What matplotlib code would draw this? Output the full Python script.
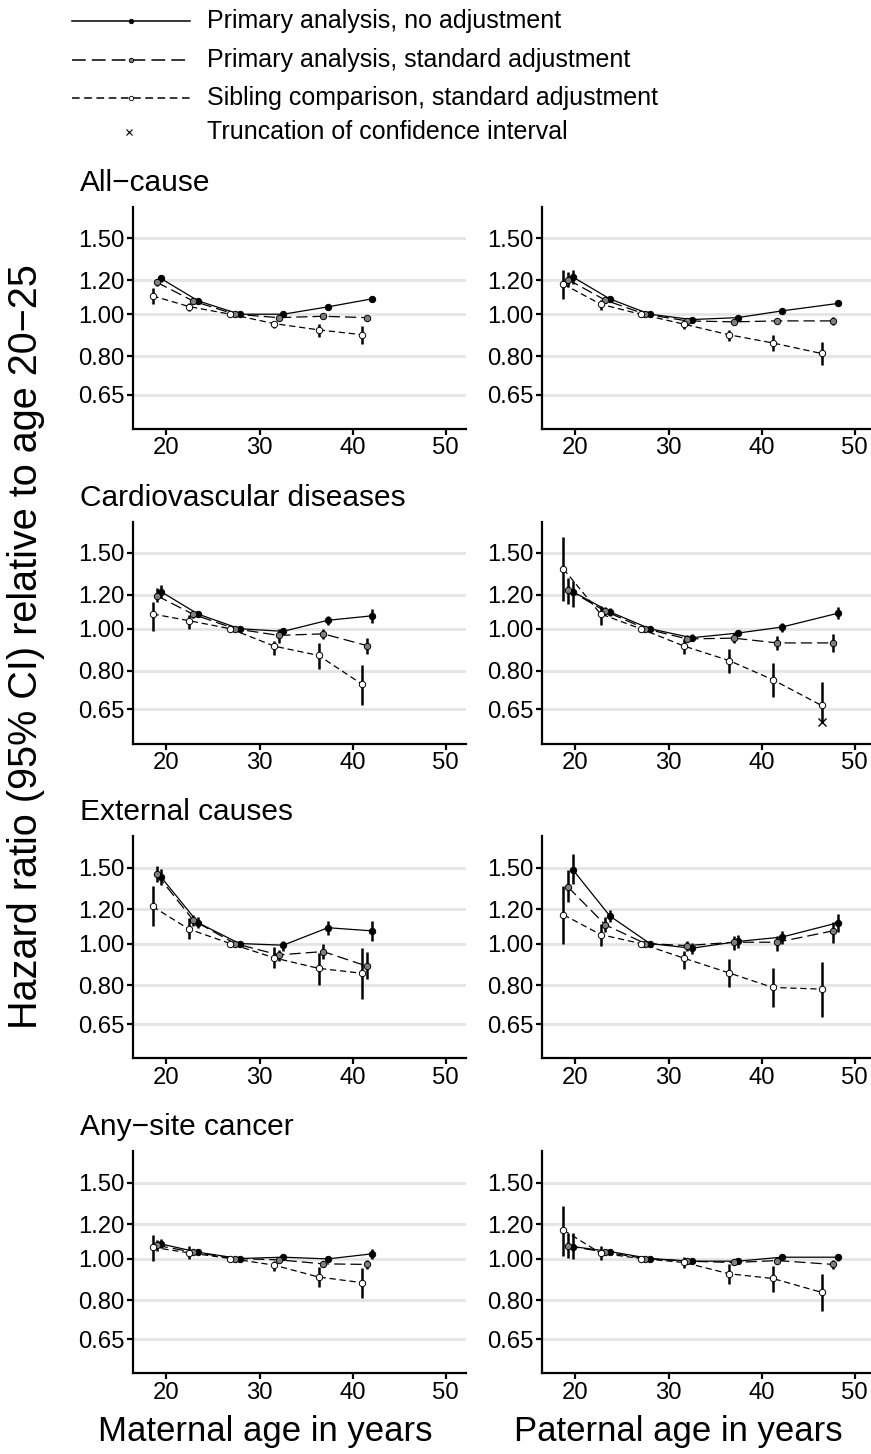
import numpy as np
import matplotlib
matplotlib.use("Agg")
import matplotlib.pyplot as plt
from matplotlib.lines import Line2D

plt.rcParams['font.family'] = ['Liberation Sans', 'DejaVu Sans']

W, H = 871, 1454

# ---------------- data ----------------
causes = ["All\u2212cause", "Cardiovascular diseases", "External causes", "Any\u2212site cancer"]
series_names = ["Primary analysis, no adjustment",
                "Primary analysis, standard adjustment",
                "Sibling comparison, standard adjustment"]

# x positions (mean age in category) per series
mat_x_unadj = [19.4, 23.4, 27.85, 32.55, 37.35, 42.05]
mat_x_adj   = [18.95, 22.9, 27.35, 32.05, 36.85, 41.55]
mat_x_sib   = [18.5, 22.4, 26.85, 31.6, 36.35, 41.05]
pat_x_unadj = [19.7, 23.7, 28.0, 32.5, 37.45, 42.2, 48.2]
pat_x_adj   = [19.2, 23.2, 27.5, 32.0, 37.0, 41.7, 47.7]
pat_x_sib   = [18.7, 22.7, 27.0, 31.7, 36.5, 41.2, 46.45]

# ---- All-cause, maternal
allc_mat_unadj    = [1.21, 1.074, 1.0, 1.0, 1.04, 1.085]
allc_mat_unadj_lo = [1.19, 1.062, 1.0, 0.99, 1.028, 1.07]
allc_mat_unadj_hi = [1.23, 1.086, 1.0, 1.01, 1.052, 1.10]
allc_mat_adj      = [1.186, 1.072, 1.0, 0.982, 0.989, 0.982]
allc_mat_adj_lo   = [1.165, 1.06, 1.0, 0.972, 0.976, 0.965]
allc_mat_adj_hi   = [1.207, 1.084, 1.0, 0.992, 1.002, 0.998]
allc_mat_sib      = [1.103, 1.042, 1.0, 0.951, 0.92, 0.896]
allc_mat_sib_lo   = [1.055, 1.018, 1.0, 0.931, 0.886, 0.852]
allc_mat_sib_hi   = [1.153, 1.059, 1.0, 0.965, 0.948, 0.94]

# ---- All-cause, paternal
allc_pat_unadj    = [1.22, 1.085, 1.0, 0.972, 0.982, 1.018, 1.059]
allc_pat_unadj_lo = [1.174, 1.072, 1.0, 0.962, 0.972, 1.006, 1.045]
allc_pat_unadj_hi = [1.269, 1.098, 1.0, 0.982, 0.992, 1.03, 1.073]
allc_pat_adj      = [1.203, 1.078, 1.0, 0.965, 0.960, 0.965, 0.965]
allc_pat_adj_lo   = [1.157, 1.064, 1.0, 0.954, 0.948, 0.952, 0.945]
allc_pat_adj_hi   = [1.254, 1.092, 1.0, 0.976, 0.972, 0.978, 0.986]
allc_pat_sib      = [1.174, 1.055, 1.0, 0.948, 0.896, 0.858, 0.811]
allc_pat_sib_lo   = [1.085, 1.025, 1.0, 0.926, 0.867, 0.822, 0.763]
allc_pat_sib_hi   = [1.265, 1.078, 1.0, 0.965, 0.921, 0.894, 0.86]

# ---- Cardiovascular, maternal
cvd_mat_unadj    = [1.219, 1.081, 1.0, 0.986, 1.046, 1.071]
cvd_mat_unadj_lo = [1.176, 1.063, 1.0, 0.97, 1.022, 1.033]
cvd_mat_unadj_hi = [1.26, 1.10, 1.0, 1.004, 1.071, 1.11]
cvd_mat_adj      = [1.193, 1.079, 1.0, 0.965, 0.973, 0.914]
cvd_mat_adj_lo   = [1.155, 1.06, 1.0, 0.927, 0.947, 0.874]
cvd_mat_adj_hi   = [1.24, 1.098, 1.0, 1.0, 1.0, 0.954]
cvd_mat_sib      = [1.082, 1.044, 1.0, 0.911, 0.867, 0.743]
cvd_mat_sib_lo   = [0.986, 0.996, 1.0, 0.869, 0.808, 0.667]
cvd_mat_sib_hi   = [1.155, 1.075, 1.0, 0.939, 0.927, 0.825]

# ---- Cardiovascular, paternal
cvd_pat_unadj    = [1.219, 1.094, 1.0, 0.953, 0.977, 1.009, 1.086]
cvd_pat_unadj_lo = [1.124, 1.07, 1.0, 0.935, 0.96, 0.985, 1.056]
cvd_pat_unadj_hi = [1.29, 1.118, 1.0, 0.972, 0.995, 1.033, 1.124]
cvd_pat_adj      = [1.232, 1.098, 1.0, 0.947, 0.951, 0.927, 0.927]
cvd_pat_adj_lo   = [1.138, 1.075, 1.0, 0.93, 0.927, 0.894, 0.885]
cvd_pat_adj_hi   = [1.31, 1.12, 1.0, 0.965, 0.979, 0.961, 0.97]
cvd_pat_sib      = [1.376, 1.082, 1.0, 0.911, 0.844, 0.762, 0.664]
cvd_pat_sib_lo   = [1.159, 1.022, 1.0, 0.874, 0.788, 0.695, 0.61]
cvd_pat_sib_hi   = [1.627, 1.13, 1.0, 0.947, 0.898, 0.832, 0.752]
cvd_pat_sib_trunc = [None, None, None, None, None, None, 0.607]

# ---- External causes, maternal
ext_mat_unadj    = [1.427, 1.117, 1.0, 0.991, 1.088, 1.07]
ext_mat_unadj_lo = [1.364, 1.085, 1.0, 0.963, 1.048, 1.015]
ext_mat_unadj_hi = [1.49, 1.149, 1.0, 1.011, 1.127, 1.126]
ext_mat_adj      = [1.447, 1.131, 1.0, 0.941, 0.958, 0.886]
ext_mat_adj_lo   = [1.389, 1.097, 1.0, 0.913, 0.92, 0.828]
ext_mat_adj_hi   = [1.51, 1.166, 1.0, 0.968, 1.0, 0.954]
ext_mat_sib      = [1.219, 1.08, 1.0, 0.926, 0.876, 0.853]
ext_mat_sib_lo   = [1.097, 1.022, 1.0, 0.876, 0.803, 0.743]
ext_mat_sib_hi   = [1.36, 1.145, 1.0, 0.98, 0.951, 0.975]

# ---- External causes, paternal
ext_pat_unadj    = [1.484, 1.158, 1.0, 0.975, 1.011, 1.035, 1.117]
ext_pat_unadj_lo = [1.377, 1.121, 1.0, 0.947, 0.975, 0.998, 1.063]
ext_pat_unadj_hi = [1.611, 1.193, 1.0, 1.005, 1.047, 1.071, 1.172]
ext_pat_adj      = [1.352, 1.105, 1.0, 0.989, 1.007, 1.007, 1.07]
ext_pat_adj_lo   = [1.248, 1.063, 1.0, 0.962, 0.968, 0.96, 1.004]
ext_pat_adj_hi   = [1.479, 1.151, 1.0, 1.016, 1.043, 1.043, 1.121]
ext_pat_sib      = [1.166, 1.049, 1.0, 0.924, 0.855, 0.791, 0.784]
ext_pat_sib_lo   = [0.998, 0.989, 1.0, 0.873, 0.791, 0.711, 0.674]
ext_pat_sib_hi   = [1.36, 1.111, 1.0, 0.963, 0.921, 0.876, 0.908]

# ---- Any-site cancer, maternal
can_mat_unadj    = [1.081, 1.034, 1.0, 1.007, 0.998, 1.025]
can_mat_unadj_lo = [1.056, 1.022, 1.0, 0.997, 0.986, 0.996]
can_mat_unadj_hi = [1.11, 1.046, 1.0, 1.017, 1.01, 1.053]
can_mat_adj      = [1.073, 1.034, 1.0, 0.993, 0.972, 0.969]
can_mat_adj_lo   = [1.04, 1.022, 1.0, 0.983, 0.958, 0.948]
can_mat_adj_hi   = [1.106, 1.046, 1.0, 1.003, 0.986, 0.99]
can_mat_sib      = [1.062, 1.031, 1.0, 0.965, 0.906, 0.879]
can_mat_sib_lo   = [0.989, 0.996, 1.0, 0.935, 0.859, 0.811]
can_mat_sib_hi   = [1.136, 1.07, 1.0, 0.989, 0.955, 0.951]

# ---- Any-site cancer, paternal
can_pat_unadj    = [1.066, 1.038, 1.0, 0.986, 0.986, 1.007, 1.007]
can_pat_unadj_lo = [0.996, 1.024, 1.0, 0.976, 0.974, 0.99, 0.988]
can_pat_unadj_hi = [1.144, 1.052, 1.0, 0.996, 0.998, 1.024, 1.025]
can_pat_adj      = [1.07, 1.034, 1.0, 0.986, 0.979, 0.989, 0.969]
can_pat_adj_lo   = [1.004, 1.02, 1.0, 0.975, 0.966, 0.972, 0.946]
can_pat_adj_hi   = [1.144, 1.048, 1.0, 0.997, 0.992, 1.006, 0.99]
can_pat_sib      = [1.164, 1.029, 1.0, 0.979, 0.922, 0.899, 0.835]
can_pat_sib_lo   = [1.016, 0.99, 1.0, 0.951, 0.874, 0.836, 0.756]
can_pat_sib_hi   = [1.325, 1.07, 1.0, 1.008, 0.972, 0.963, 0.919]

y_ticks = [0.65, 0.80, 1.00, 1.20, 1.50]
y_ticklabels = ["0.65", "0.80", "1.00", "1.20", "1.50"]
x_ticks = [20, 30, 40, 50]

panels = [
    (0, 0, (mat_x_unadj, mat_x_adj, mat_x_sib),
     [(allc_mat_unadj, allc_mat_unadj_lo, allc_mat_unadj_hi),
      (allc_mat_adj, allc_mat_adj_lo, allc_mat_adj_hi),
      (allc_mat_sib, allc_mat_sib_lo, allc_mat_sib_hi)], None),
    (0, 1, (pat_x_unadj, pat_x_adj, pat_x_sib),
     [(allc_pat_unadj, allc_pat_unadj_lo, allc_pat_unadj_hi),
      (allc_pat_adj, allc_pat_adj_lo, allc_pat_adj_hi),
      (allc_pat_sib, allc_pat_sib_lo, allc_pat_sib_hi)], None),
    (1, 0, (mat_x_unadj, mat_x_adj, mat_x_sib),
     [(cvd_mat_unadj, cvd_mat_unadj_lo, cvd_mat_unadj_hi),
      (cvd_mat_adj, cvd_mat_adj_lo, cvd_mat_adj_hi),
      (cvd_mat_sib, cvd_mat_sib_lo, cvd_mat_sib_hi)], None),
    (1, 1, (pat_x_unadj, pat_x_adj, pat_x_sib),
     [(cvd_pat_unadj, cvd_pat_unadj_lo, cvd_pat_unadj_hi),
      (cvd_pat_adj, cvd_pat_adj_lo, cvd_pat_adj_hi),
      (cvd_pat_sib, cvd_pat_sib_lo, cvd_pat_sib_hi)], cvd_pat_sib_trunc),
    (2, 0, (mat_x_unadj, mat_x_adj, mat_x_sib),
     [(ext_mat_unadj, ext_mat_unadj_lo, ext_mat_unadj_hi),
      (ext_mat_adj, ext_mat_adj_lo, ext_mat_adj_hi),
      (ext_mat_sib, ext_mat_sib_lo, ext_mat_sib_hi)], None),
    (2, 1, (pat_x_unadj, pat_x_adj, pat_x_sib),
     [(ext_pat_unadj, ext_pat_unadj_lo, ext_pat_unadj_hi),
      (ext_pat_adj, ext_pat_adj_lo, ext_pat_adj_hi),
      (ext_pat_sib, ext_pat_sib_lo, ext_pat_sib_hi)], None),
    (3, 0, (mat_x_unadj, mat_x_adj, mat_x_sib),
     [(can_mat_unadj, can_mat_unadj_lo, can_mat_unadj_hi),
      (can_mat_adj, can_mat_adj_lo, can_mat_adj_hi),
      (can_mat_sib, can_mat_sib_lo, can_mat_sib_hi)], None),
    (3, 1, (pat_x_unadj, pat_x_adj, pat_x_sib),
     [(can_pat_unadj, can_pat_unadj_lo, can_pat_unadj_hi),
      (can_pat_adj, can_pat_adj_lo, can_pat_adj_hi),
      (can_pat_sib, can_pat_sib_lo, can_pat_sib_hi)], None),
]

# ---------------- style ----------------
face_colors = ["black", "#7f7f7f", "white"]
line_styles = ["-", (0, (9, 4)), (0, (5, 3))]
ci_ref_skip = 2  # reference category has no CI

fig = plt.figure(figsize=(W / 100, H / 100), dpi=100)

col_left = [133, 542]
ax_w = 333
row_bottom = [429, 743.5, 1058.3, 1373.3]
ax_h = 222

def px_ax(l, b, w, h):
    return [l / W, 1 - b / H, w / W, h / H]

for (ci, col, xs, ser, trunc) in panels:
    ax = fig.add_axes(px_ax(col_left[col], row_bottom[ci], ax_w, ax_h))
    ax.set_yscale('log')
    ax.set_ylim(0.542, 1.772)
    ax.set_xlim(16.4, 52.2)
    for yt in y_ticks:
        ax.axhline(yt, color="#e5e5e5", lw=2.0, zorder=0)
    for k in range(3):
        x = np.array(xs[k])
        est, lo, hi = (np.array(a, dtype=float) for a in ser[k])
        ax.plot(x, est, color="black", lw=0.9, ls=line_styles[k], zorder=2)
        for i in range(len(x)):
            if i == ci_ref_skip:
                continue
            ax.plot([x[i], x[i]], [lo[i], hi[i]], color="black", lw=1.8,
                    solid_capstyle="butt", zorder=3)
        ax.plot(x, est, ls="none", marker="o", ms=4.6, mfc=face_colors[k],
                mec="black", mew=0.7, zorder=4)
    if trunc is not None:
        xsib = xs[2]
        for i, t in enumerate(trunc):
            if t is not None:
                ax.plot([xsib[i]], [t], ls="none", marker="x", ms=6,
                        mec="black", mew=1.0, zorder=5)
    ax.set_yticks(y_ticks)
    ax.set_yticklabels(y_ticklabels)
    ax.minorticks_off()
    ax.set_xticks(x_ticks)
    for s in ["top", "right"]:
        ax.spines[s].set_visible(False)
    for s in ["left", "bottom"]:
        ax.spines[s].set_linewidth(1.6)
    ax.tick_params(axis="both", length=4, width=1.6, labelsize=17.2,
                   colors="black", pad=2)
    ax.patch.set_alpha(0)

    if col == 0:
        fig.text(80 / W, 1 - (row_bottom[ci] - ax_h - 24) / H, causes[ci],
                 fontsize=21.5, ha="left", va="center")

# y-label
fig.text(26 / W, 1 - 647 / H, "Hazard ratio (95% CI) relative to age 20\u221225",
         rotation=90, fontsize=28.5, ha="center", va="center")
# x-labels
fig.text(265 / W, 1 - 1431 / H, "Maternal age in years", fontsize=25,
         ha="center", va="center")
fig.text(678 / W, 1 - 1431 / H, "Paternal age in years", fontsize=25,
         ha="center", va="center")

# legend
leg_rows = [21, 60, 98, 132]
for k in range(3):
    yf = 1 - leg_rows[k] / H
    fig.add_artist(Line2D([72 / W, 190 / W], [yf, yf], color="black", lw=1.1,
                          ls=line_styles[k], transform=fig.transFigure))
    fig.add_artist(Line2D([131 / W], [yf], ls="none", marker="o", ms=3.2,
                          mfc=face_colors[k], mec="black", mew=0.6,
                          transform=fig.transFigure))
    fig.text(207 / W, yf, series_names[k], fontsize=18, ha="left", va="center")
yf = 1 - leg_rows[3] / H
fig.add_artist(Line2D([129 / W], [yf], ls="none", marker="x", ms=4.5,
                      mec="black", mew=0.8, transform=fig.transFigure))
fig.text(207 / W, yf, "Truncation of confidence interval", fontsize=18,
         ha="left", va="center")

fig.savefig("out.png", dpi=100)
